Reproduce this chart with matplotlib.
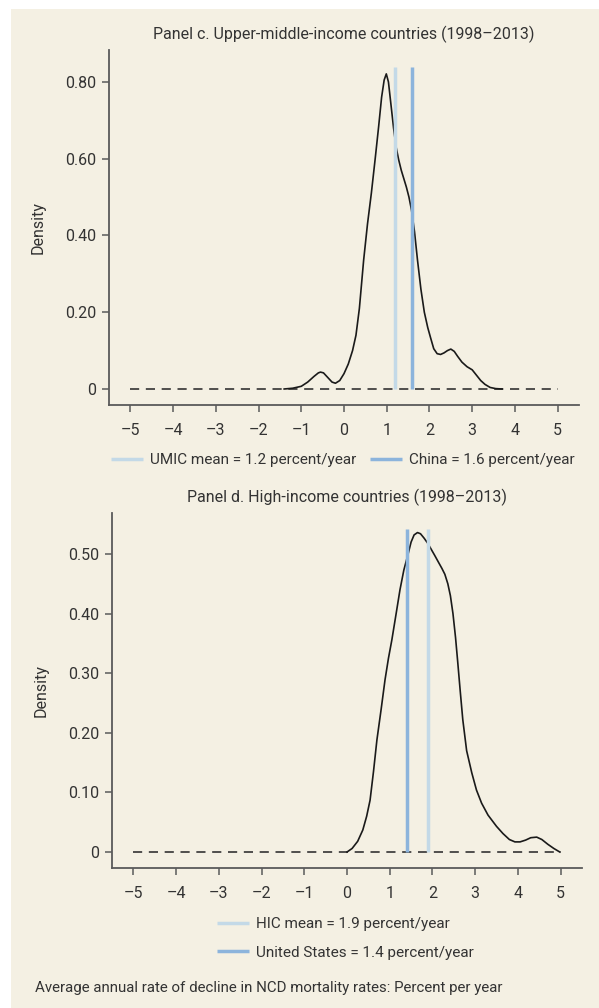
import numpy as np
import matplotlib
matplotlib.use("Agg")
import matplotlib.pyplot as plt
from matplotlib.patches import Rectangle

plt.rcParams['font.family'] = ['Roboto', 'DejaVu Sans']

BG = '#f4f0e3'
LIGHT = '#c3d9e7'
DARK = '#8cb4dc'
SPINE = '#5a5a5a'
TXT = '#333333'

# panel c: upper-middle-income density
umic_x = [-1.4, -1.2, -1.0, -0.85, -0.7, -0.6, -0.55, -0.48, -0.38, -0.28, -0.2, -0.1, 0.0,
          0.1, 0.2, 0.28, 0.36, 0.46, 0.55, 0.64, 0.73, 0.81, 0.88, 0.94, 0.99, 1.04, 1.1,
          1.16, 1.22, 1.28, 1.34, 1.4, 1.46, 1.52, 1.58, 1.65, 1.72, 1.8, 1.88, 1.96,
          2.03, 2.1, 2.18, 2.26, 2.34, 2.42, 2.5, 2.58, 2.66, 2.76, 2.88, 3.0, 3.1,
          3.2, 3.3, 3.42, 3.55, 3.7]
umic_y = [0.0, 0.002, 0.007, 0.018, 0.033, 0.042, 0.044, 0.042, 0.03, 0.018, 0.015, 0.022, 0.04,
          0.065, 0.1, 0.14, 0.21, 0.336, 0.43, 0.51, 0.6, 0.683, 0.76, 0.805, 0.821, 0.8, 0.74,
          0.68, 0.63, 0.597, 0.57, 0.548, 0.526, 0.5, 0.466, 0.41, 0.336, 0.26, 0.2, 0.16,
          0.132, 0.105, 0.092, 0.09, 0.094, 0.1, 0.104, 0.098, 0.085, 0.07, 0.058, 0.05, 0.036,
          0.022, 0.012, 0.004, 0.001, 0.0]
umic_mean = 1.2
china = 1.6

# panel d: high-income density
hic_x = [0.0, 0.12, 0.25, 0.37, 0.46, 0.54, 0.62, 0.70, 0.8, 0.89, 0.97, 1.05, 1.15, 1.24,
         1.33, 1.43, 1.5, 1.57, 1.65, 1.72, 1.8, 1.89, 1.97, 2.05, 2.15, 2.22, 2.29, 2.36,
         2.42, 2.48, 2.54, 2.59, 2.65, 2.71, 2.8, 2.92, 3.03, 3.15, 3.3, 3.5, 3.65, 3.8,
         3.93, 4.05, 4.18, 4.3, 4.44, 4.56, 4.7, 4.84, 4.98]
hic_y = [0.0, 0.006, 0.018, 0.037, 0.06, 0.087, 0.135, 0.188, 0.24, 0.289, 0.325, 0.356, 0.4, 0.44,
         0.473, 0.50, 0.52, 0.532, 0.536, 0.534, 0.527, 0.518, 0.508, 0.498, 0.485, 0.476, 0.466, 0.45,
         0.43, 0.4, 0.36, 0.32, 0.27, 0.222, 0.17, 0.133, 0.104, 0.082, 0.062, 0.043, 0.031, 0.021,
         0.017, 0.017, 0.02, 0.024, 0.025, 0.021, 0.013, 0.006, 0.0]
hic_mean = 1.9
usa = 1.4

xticks = [-5, -4, -3, -2, -1, 0, 1, 2, 3, 4, 5]
xticklabels = ['\u20135', '\u20134', '\u20133', '\u20132', '\u20131', '0', '1', '2', '3', '4', '5']
c_yticks = [0, 0.2, 0.4, 0.6, 0.8]
c_yticklabels = ['0', '0.20', '0.40', '0.60', '0.80']
d_yticks = [0, 0.1, 0.2, 0.3, 0.4, 0.5]
d_yticklabels = ['0', '0.10', '0.20', '0.30', '0.40', '0.50']

W, H = 599, 1008
FS = 11.5
fig = plt.figure(figsize=(W / 100, H / 100), dpi=100)
fig.patch.set_facecolor('white')
fig.patches.append(Rectangle((11 / W, 0), 1, 1 - 9 / H, transform=fig.transFigure,
                             facecolor=BG, edgecolor='none', zorder=-10))


def px_axes(left, top, right, bottom):
    return fig.add_axes([left / W, 1 - bottom / H, (right - left) / W, (bottom - top) / H])


def style(ax, yticks, ylabels):
    ax.set_facecolor('none')
    for s in ['top', 'right']:
        ax.spines[s].set_visible(False)
    for s in ['left', 'bottom']:
        ax.spines[s].set_color(SPINE)
        ax.spines[s].set_linewidth(1.3)
    ax.set_xlim(-5.5, 5.5)
    ax.set_xticks(xticks)
    ax.set_xticklabels(xticklabels)
    ax.set_yticks(yticks)
    ax.set_yticklabels(ylabels)
    ax.tick_params(axis='both', direction='out', length=5, width=1.1, color=SPINE,
                   labelsize=FS, labelcolor=TXT, pad=4)
    ax.tick_params(axis='x', pad=8)
    ax.set_ylabel('Density', fontsize=FS, color=TXT, labelpad=14)


# ---- panel c
ax1 = px_axes(109, 50, 579, 405)
style(ax1, c_yticks, c_yticklabels)
ax1.set_ylim(-0.0417, 0.8832)
ax1.plot([-5, 5], [0, 0], color='#333333', lw=1.2, dashes=(5.5, 4))
ax1.plot(umic_x, umic_y, color='#1a1a1a', lw=1.2)
l1 = ax1.vlines(umic_mean, 0, 0.84, color=LIGHT, lw=2.5, label='UMIC mean = 1.2 percent/year')
l2 = ax1.vlines(china, 0, 0.84, color=DARK, lw=2.5, label='China = 1.6 percent/year')
ax1.set_title('Panel c. Upper-middle-income countries (1998\u20132013)', fontsize=11.5,
              color=TXT, pad=8)
ax1.legend(handles=[l1, l2], ncol=2, frameon=False, fontsize=11, labelcolor=TXT,
           loc='center', bbox_to_anchor=(343 / W, 1 - 460 / H), bbox_transform=fig.transFigure,
           handlelength=2.1, columnspacing=0.9, handletextpad=0.45, borderpad=0, borderaxespad=0)

# ---- panel d
ax2 = px_axes(112, 513, 582, 868)
style(ax2, d_yticks, d_yticklabels)
ax2.set_ylim(-0.0268, 0.5688)
ax2.plot([-5, 5], [0, 0], color='#333333', lw=1.2, dashes=(5.5, 4))
ax2.plot(hic_x, hic_y, color='#1a1a1a', lw=1.2)
l3 = ax2.vlines(hic_mean, 0, 0.542, color=LIGHT, lw=2.5, label='HIC mean = 1.9 percent/year')
l4 = ax2.vlines(usa, 0, 0.542, color=DARK, lw=2.5, label='United States = 1.4 percent/year')
ax2.set_title('Panel d. High-income countries (1998\u20132013)', fontsize=11.5,
              color=TXT, pad=8)
ax2.legend(handles=[l3, l4], ncol=1, frameon=False, fontsize=11, labelcolor=TXT,
           loc='upper left', bbox_to_anchor=(217 / W, 1 - 917 / H), bbox_transform=fig.transFigure,
           handlelength=2.1, handletextpad=0.45, labelspacing=0.95, borderpad=0, borderaxespad=0)

fig.text(35 / W, 1 - 988 / H,
         'Average annual rate of decline in NCD mortality rates: Percent per year',
         fontsize=10.8, color=TXT, va='center', ha='left')

fig.savefig('out.png', dpi=100, facecolor=fig.get_facecolor())
